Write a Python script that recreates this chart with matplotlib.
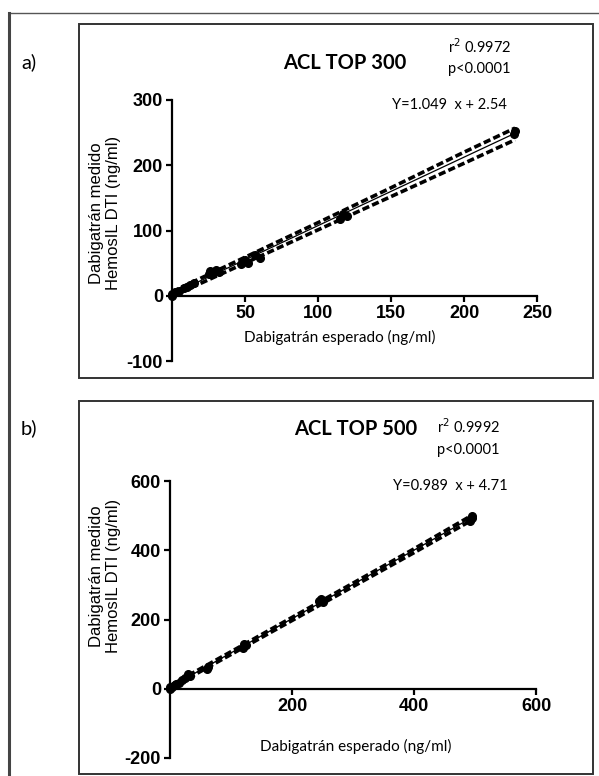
import matplotlib
matplotlib.use("Agg")
import matplotlib.pyplot as plt
from matplotlib.lines import Line2D
from matplotlib.patches import Rectangle

plt.rcParams["axes.unicode_minus"] = False

# ---------------- data ----------------
# Panel a) ACL TOP 300
a_x = [0, 0, 2, 5, 8, 10, 12, 15, 25, 26, 28, 30, 32, 47, 50, 52, 57, 60, 115, 117, 120, 234, 235]
a_y = [0, 3, 5, 8, 12, 14, 16, 20, 33, 38, 35, 40, 37, 48, 55, 50, 62, 58, 118, 126, 122, 248, 252]
a_fit_x = [0, 235]
a_fit_y = [2.54, 249.1]
a_band_x = [0, 50, 100, 150, 200, 235]
a_band_hi = [6.0, 59.0, 112.0, 165.5, 220.0, 257.0]
a_band_lo = [-1.0, 50.0, 101.0, 152.0, 203.0, 239.0]
a_xticks = [50, 100, 150, 200, 250]
a_yticks = [-100, 0, 100, 200, 300]

# Panel b) ACL TOP 500
b_x = [0, 0, 3, 8, 10, 15, 20, 25, 30, 32, 60, 62, 120, 122, 125, 245, 248, 250, 492, 495, 495]
b_y = [0, 4, 6, 10, 14, 18, 24, 30, 44, 38, 58, 64, 118, 130, 126, 252, 260, 250, 485, 492, 498]
b_fit_x = [0, 495]
b_fit_y = [4.71, 494.3]
b_band_x = [0, 100, 200, 300, 400, 495]
b_band_hi = [9.0, 107.0, 206.0, 305.0, 404.0, 501.0]
b_band_lo = [1.0, 99.0, 197.0, 295.0, 393.0, 487.0]
b_xticks = [200, 400, 600]
b_yticks = [-200, 0, 200, 400, 600]

W, H = 599, 776
fig = plt.figure(figsize=(W / 100, H / 100), dpi=100)
fig.patch.set_facecolor("white")

TICKFONT = ["Liberation Sans Narrow", "Liberation Sans", "DejaVu Sans"]
CAL = ["Lato", "Open Sans", "DejaVu Sans"]
ARIAL = ["Liberation Sans", "DejaVu Sans"]


def fx(px):
    return px / W


def fy(py):
    return 1 - py / H


# outer frame
fig.add_artist(Line2D([fx(9), fx(599)], [fy(13), fy(13)], transform=fig.transFigure,
                      color="#555555", lw=1.0))
fig.add_artist(Line2D([fx(9), fx(9)], [fy(13), fy(776)], transform=fig.transFigure,
                      color="#444444", lw=2.2))

# panel boxes
for (x0, y0, x1, y1) in [(79, 24, 593, 378), (79, 401, 593, 774)]:
    fig.add_artist(Rectangle((fx(x0), fy(y1)), fx(x1) - fx(x0), fy(y0) - fy(y1),
                             transform=fig.transFigure, fill=False,
                             edgecolor="#333333", lw=1.4))


def panel(rect, xs, ys, fitx, fity, bx, bhi, blo, xticks, yticks, xlim, ylim):
    ax = fig.add_axes(rect)
    ax.patch.set_visible(False)
    ax.set_xlim(*xlim)
    ax.set_ylim(*ylim)
    ax.spines["top"].set_visible(False)
    ax.spines["right"].set_visible(False)
    ax.spines["bottom"].set_position(("data", 0))
    for s in ("left", "bottom"):
        ax.spines[s].set_linewidth(1.6)
        ax.spines[s].set_color("black")
    ax.set_xticks(xticks)
    ax.set_yticks(yticks)
    ax.tick_params(direction="out", length=4.5, width=1.6, colors="black", pad=2)
    for lab in ax.get_xticklabels() + ax.get_yticklabels():
        lab.set_fontfamily(TICKFONT)
        lab.set_fontweight("bold")
        lab.set_fontsize(13)
    ax.plot(bx, bhi, color="black", lw=2.6, ls=(0, (2.0, 0.9)), clip_on=False)
    ax.plot(bx, blo, color="black", lw=2.6, ls=(0, (2.0, 0.9)), clip_on=False)
    ax.plot(fitx, fity, color="black", lw=0.9, clip_on=False)
    ax.plot(xs, ys, "o", color="black", ms=5.5, clip_on=False)
    return ax


# axes a: x 0->172px, 250->537px ; y 300->100px, -100->361px
panel([fx(172), fy(361), fx(537) - fx(172), fy(100) - fy(361)],
      a_x, a_y, a_fit_x, a_fit_y, a_band_x, a_band_hi, a_band_lo,
      a_xticks, a_yticks, (0, 250), (-100, 300))

# axes b: x 0->170px, 600->536px ; y 600->481px, -200->758px
panel([fx(170), fy(758), fx(536) - fx(170), fy(481) - fy(758)],
      b_x, b_y, b_fit_x, b_fit_y, b_band_x, b_band_hi, b_band_lo,
      b_xticks, b_yticks, (0, 600), (-200, 600))

# ---- panel a texts ----
fig.text(fx(21), fy(62), "a)", family=CAL, fontsize=14.5, va="center", ha="left")
fig.text(fx(345), fy(63), "ACL TOP 300", family=CAL, fontsize=14.5, fontweight="bold",
         ha="center", va="center")
fig.text(fx(448), fy(47), "r$^2$ 0.9972", family=CAL, fontsize=10.5, ha="left", va="center")
fig.text(fx(448), fy(69), "p<0.0001", family=CAL, fontsize=10.5, ha="left", va="center")
fig.text(fx(392), fy(105), "Y=1.049  x + 2.54", family=CAL, fontsize=10.5, ha="left", va="center")
fig.text(fx(340), fy(337), "Dabigatrán esperado (ng/ml)", family=CAL, fontsize=11,
         ha="center", va="center")
fig.text(fx(105), fy(213), "Dabigatrán medido\nHemosIL DTI (ng/ml)", family=ARIAL,
         fontsize=12, rotation=90, ha="center", va="center", linespacing=1.15,
         multialignment="center")

# ---- panel b texts ----
fig.text(fx(21), fy(428), "b)", family=CAL, fontsize=14.5, va="center", ha="left")
fig.text(fx(356), fy(429), "ACL TOP 500", family=CAL, fontsize=14.5, fontweight="bold",
         ha="center", va="center")
fig.text(fx(437), fy(427), "r$^2$ 0.9992", family=CAL, fontsize=10.5, ha="left", va="center")
fig.text(fx(437), fy(450), "p<0.0001", family=CAL, fontsize=10.5, ha="left", va="center")
fig.text(fx(393), fy(486), "Y=0.989  x + 4.71", family=CAL, fontsize=10.5, ha="left", va="center")
fig.text(fx(356), fy(746), "Dabigatrán esperado (ng/ml)", family=CAL, fontsize=11,
         ha="center", va="center")
fig.text(fx(105), fy(576), "Dabigatrán medido\nHemosIL DTI (ng/ml)", family=ARIAL,
         fontsize=12, rotation=90, ha="center", va="center", linespacing=1.15,
         multialignment="center")

fig.savefig("out.png", dpi=100, facecolor="white")
